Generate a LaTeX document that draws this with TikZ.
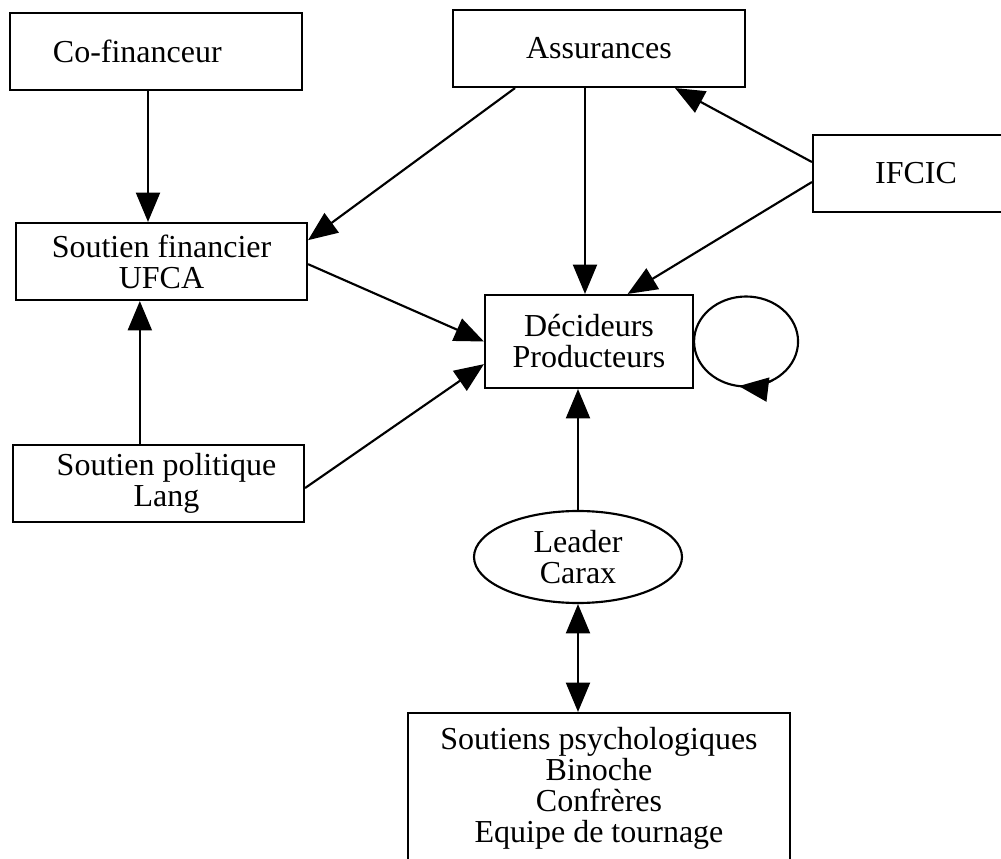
\documentclass[tikz,border=0pt]{standalone}
\usepackage{fontspec}
\setmainfont{Liberation Serif}
\usepackage{tikz}
\usetikzlibrary{arrows.meta,shapes.geometric}

\begin{document}
\begin{tikzpicture}[x=0.75pt,y=-0.75pt,
		every node/.style={font=\fontsize{24}{23.25}\selectfont, align=center},
		box/.style={draw, line width=1.6pt, rectangle, inner sep=0pt},
		oval/.style={draw, line width=1.6pt, ellipse, inner sep=0pt},
		link/.style={line width=1.6pt, -{Triangle[length=22pt,width=18pt]}},
		both/.style={line width=1.6pt, {Triangle[length=22pt,width=18pt]}-{Triangle[length=22pt,width=18pt]}}]
		%%%%% START %%%%%
		
		\useasboundingbox (0,0) rectangle (1001,859);
		\clip (0,0) rectangle (1001,859);
		
		\node[box, minimum width=219pt, minimum height=57.75pt] (cofin) at (156,51.5) {Co-financeur\hspace*{28pt}};
		\node[box, minimum width=219pt, minimum height=57.75pt] (assur) at (599,48.5) {Assurances};
		\node[box, minimum width=154.5pt, minimum height=57.75pt] (ifcic) at (916,173.5) {IFCIC};
		\node[box, minimum width=218.25pt, minimum height=57.75pt] (ufca) at (161.5,261.5) {Soutien financier\\UFCA};
		\node[box, minimum width=156pt, minimum height=69.75pt] (decid) at (589,341.5) {D\'ecideurs\\Producteurs};
		\node[box, minimum width=218.25pt, minimum height=57.75pt] (lang) at (158.5,483.5) {\hspace*{12pt}Soutien politique\\\hspace*{12pt}Lang};
		\node[oval, minimum width=156pt, minimum height=69pt] (leader) at (578,557) {Leader\\Carax};
		\node[box, minimum width=286.5pt, minimum height=113.25pt] (psych) at (599,788.5) {Soutiens psychologiques\\Binoche\\Confr\`eres\\Equipe de tournage};
		
		\draw[link] ([xshift=-6pt]cofin.south) -- ([xshift=-6pt]cofin.south |- ufca.north);
		\draw[link] ([xshift=-63pt]assur.south) -- ([yshift=16pt]ufca.east);
		\draw[link] ([xshift=-10.5pt]assur.south) -- ([xshift=-10.5pt]assur.south |- decid.north);
		\draw[link] ([yshift=8.6pt]ifcic.west) -- ([xshift=57pt]assur.south);
		\draw[link] ([yshift=-6.4pt]ifcic.west) -- ([xshift=29pt]decid.north);
		\draw[link] ([yshift=-2pt]ufca.east) -- (decid.west);
		\draw[link] ([yshift=-3.4pt]lang.east) -- ([yshift=-17pt]decid.west);
		\draw[link] ([xshift=-14pt]lang.north) -- ([xshift=-14pt]lang.north |- ufca.south);
		\draw[link] (leader.north) -- (leader.north |- decid.south);
		\draw[both] (leader.south) -- (leader.south |- psych.north);
		
		% boucle sur les decideurs
		\draw[line width=1.6pt] (decid.east) arc[start angle=180, end angle=540, x radius=52, y radius=45];
		\draw[link] ([xshift=39pt]decid.east) ++(60:52 and 45) arc[start angle=60, end angle=98, x radius=52, y radius=45];
		
		%%%%% END %%%%%
	\end{tikzpicture}
\end{document}
